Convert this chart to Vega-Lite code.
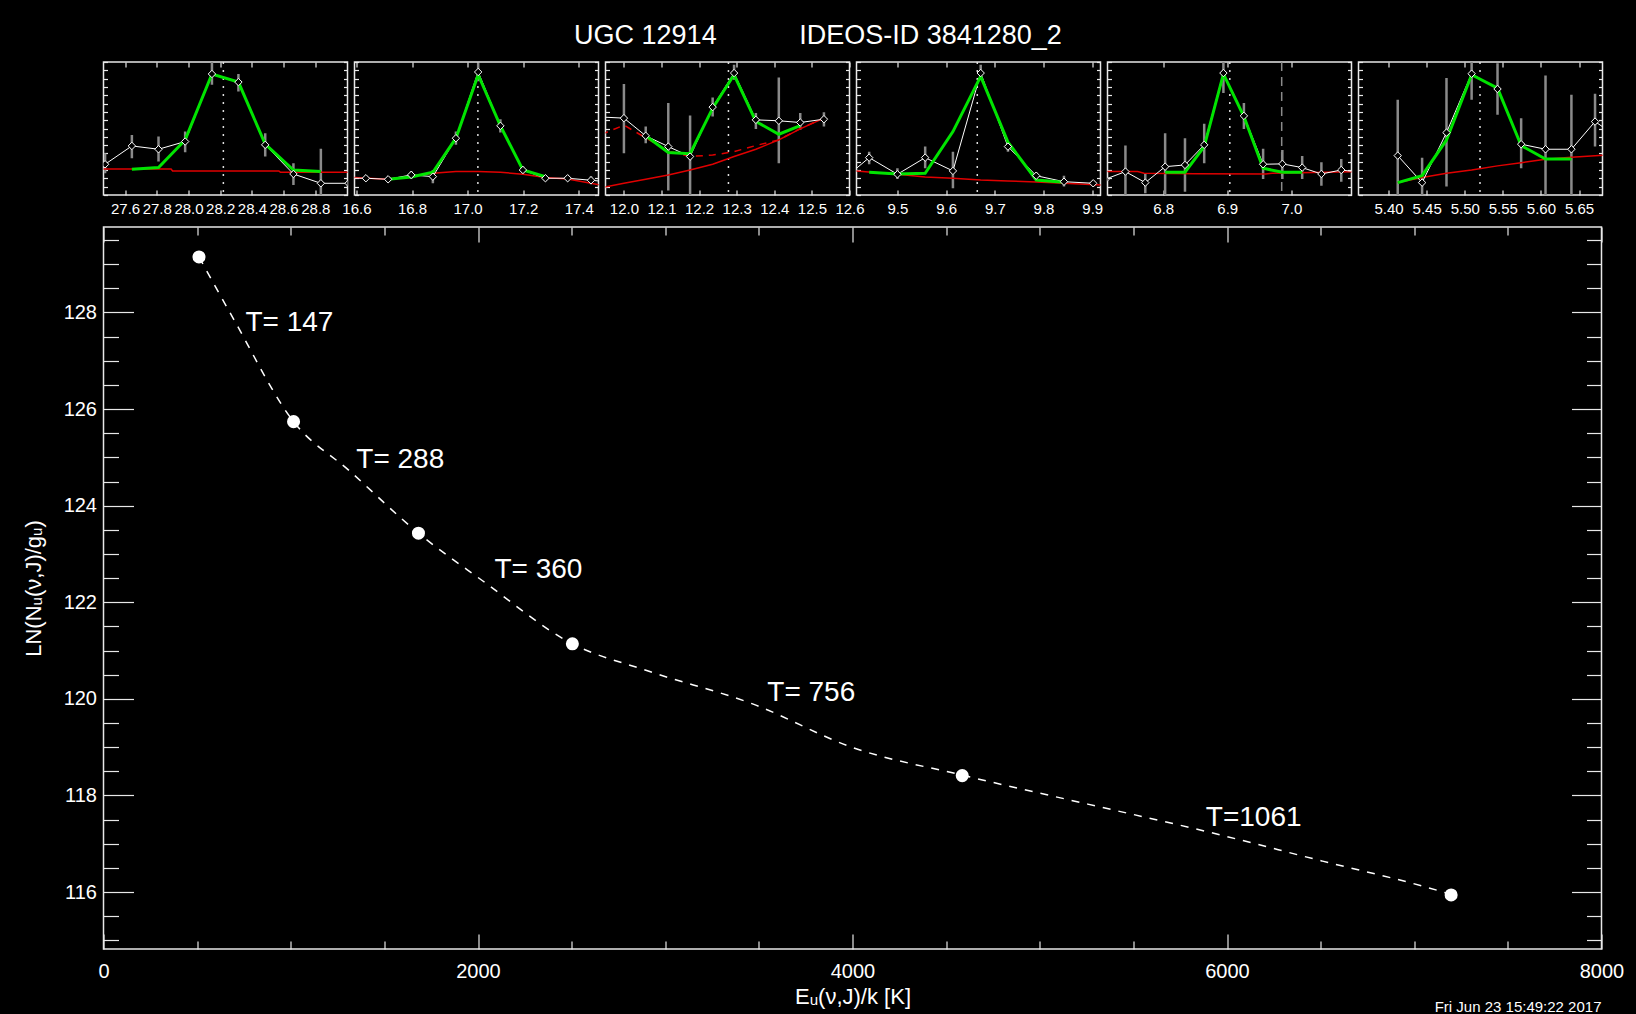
{
  "$schema": "https://vega.github.io/schema/vega-lite/v6.json",
  "background": "black",
  "padding": {"left": 20.5, "top": 21, "right": 12, "bottom": 1},
  "title": {"text": "UGC 12914\u00a0\u00a0\u00a0\u00a0\u00a0\u00a0\u00a0\u00a0\u00a0\u00a0\u00a0IDEOS-ID 3841280_2", "fontSize": 27, "color": "white", "fontWeight": "normal", "font": "Liberation Sans", "anchor": "middle", "frame": "bounds", "dx": -5, "baseline": "alphabetic", "offset": -10},
  "datasets": {
    "obs": [
      {"panel":1,"lam":27.474,"flux":23.1,"lo":16.4,"hi":31.4},
      {"panel":1,"lam":27.643,"flux":36.9,"lo":27.7,"hi":45.2},
      {"panel":1,"lam":27.811,"flux":34.4,"lo":25.1,"hi":43.9},
      {"panel":1,"lam":27.979,"flux":40.2,"lo":32.2,"hi":47.7},
      {"panel":1,"lam":28.148,"flux":91.0,"lo":82.9,"hi":100},
      {"panel":1,"lam":28.315,"flux":84.9,"lo":77.8,"hi":91.0},
      {"panel":1,"lam":28.484,"flux":37.7,"lo":28.9,"hi":46.5},
      {"panel":1,"lam":28.662,"flux":15.8,"lo":7.5,"hi":23.9},
      {"panel":1,"lam":28.835,"flux":8.8,"lo":-17,"hi":34.7},
      {"panel":1,"lam":29.01,"flux":8.8,"lo":8.8,"hi":8.8},
      {"panel":2,"lam":16.554,"flux":12.6,"lo":12.6,"hi":12.6},
      {"panel":2,"lam":16.634,"flux":12.6,"lo":10.6,"hi":14.6},
      {"panel":2,"lam":16.714,"flux":11.8,"lo":9.8,"hi":13.8},
      {"panel":2,"lam":16.797,"flux":15.1,"lo":12.1,"hi":18.1},
      {"panel":2,"lam":16.875,"flux":13.8,"lo":8.8,"hi":18.8},
      {"panel":2,"lam":16.958,"flux":42.7,"lo":37.7,"hi":47.7},
      {"panel":2,"lam":17.038,"flux":92.5,"lo":85.5,"hi":99.5},
      {"panel":2,"lam":17.118,"flux":52.0,"lo":47.0,"hi":57.0},
      {"panel":2,"lam":17.199,"flux":18.8,"lo":15.8,"hi":21.8},
      {"panel":2,"lam":17.280,"flux":12.6,"lo":10.6,"hi":14.6},
      {"panel":2,"lam":17.360,"flux":12.6,"lo":10.6,"hi":14.6},
      {"panel":2,"lam":17.444,"flux":11.1,"lo":8.1,"hi":14.1},
      {"panel":2,"lam":17.525,"flux":9.5,"lo":9.5,"hi":9.5},
      {"panel":3,"lam":11.941,"flux":58.6,"lo":58.6,"hi":58.6},
      {"panel":3,"lam":12.0,"flux":57.8,"lo":31.4,"hi":83.4},
      {"panel":3,"lam":12.058,"flux":44.5,"lo":39.0,"hi":51.5},
      {"panel":3,"lam":12.118,"flux":36.4,"lo":3.4,"hi":69.1},
      {"panel":3,"lam":12.176,"flux":28.9,"lo":-2,"hi":59.8},
      {"panel":3,"lam":12.236,"flux":66.1,"lo":59.0,"hi":73.3},
      {"panel":3,"lam":12.293,"flux":91.7,"lo":86.7,"hi":98},
      {"panel":3,"lam":12.351,"flux":56.5,"lo":49.7,"hi":61.6},
      {"panel":3,"lam":12.412,"flux":55.8,"lo":23.9,"hi":88.4},
      {"panel":3,"lam":12.469,"flux":54.5,"lo":49.0,"hi":61.6},
      {"panel":3,"lam":12.532,"flux":57.0,"lo":51.5,"hi":62.3},
      {"panel":4,"lam":9.385,"flux":10.6,"lo":10.6,"hi":10.6},
      {"panel":4,"lam":9.442,"flux":28.1,"lo":23.1,"hi":32.6},
      {"panel":4,"lam":9.5,"flux":15.6,"lo":12.1,"hi":20.1},
      {"panel":4,"lam":9.557,"flux":28.1,"lo":20.1,"hi":36.4},
      {"panel":4,"lam":9.614,"flux":18.1,"lo":5.0,"hi":32.6},
      {"panel":4,"lam":9.671,"flux":91.7,"lo":87.9,"hi":98},
      {"panel":4,"lam":9.727,"flux":36.4,"lo":32.6,"hi":39},
      {"panel":4,"lam":9.785,"flux":14.5,"lo":12.5,"hi":17},
      {"panel":4,"lam":9.842,"flux":10.0,"lo":6.3,"hi":14.5},
      {"panel":4,"lam":9.902,"flux":8.8,"lo":6.8,"hi":10.8},
      {"panel":5,"lam":6.710,"flux":11.9,"lo":11.9,"hi":11.9},
      {"panel":5,"lam":6.741,"flux":17.6,"lo":-2.4,"hi":37.2},
      {"panel":5,"lam":6.772,"flux":9.3,"lo":1.3,"hi":16.4},
      {"panel":5,"lam":6.803,"flux":21.3,"lo":-3.7,"hi":46.5},
      {"panel":5,"lam":6.834,"flux":22.6,"lo":2.5,"hi":42.7},
      {"panel":5,"lam":6.864,"flux":37.7,"lo":23.9,"hi":53.5},
      {"panel":5,"lam":6.894,"flux":91.7,"lo":76.6,"hi":106},
      {"panel":5,"lam":6.926,"flux":59.5,"lo":49.7,"hi":69.1},
      {"panel":5,"lam":6.956,"flux":23.1,"lo":12.1,"hi":34.7},
      {"panel":5,"lam":6.986,"flux":23.4,"lo":12.1,"hi":33.9},
      {"panel":5,"lam":7.017,"flux":20.6,"lo":12.1,"hi":29.4},
      {"panel":5,"lam":7.047,"flux":15.8,"lo":7.0,"hi":24.6},
      {"panel":5,"lam":7.078,"flux":18.8,"lo":10.0,"hi":27.1},
      {"panel":5,"lam":7.109,"flux":17.0,"lo":17.0,"hi":17.0},
      {"panel":6,"lam":5.412,"flux":29.6,"lo":-12.4,"hi":71.6},
      {"panel":6,"lam":5.444,"flux":9.3,"lo":-9.5,"hi":28.1},
      {"panel":6,"lam":5.476,"flux":46.9,"lo":6.4,"hi":87.9},
      {"panel":6,"lam":5.509,"flux":91.2,"lo":71.6,"hi":110},
      {"panel":6,"lam":5.543,"flux":79.7,"lo":60.3,"hi":99.1},
      {"panel":6,"lam":5.574,"flux":38.2,"lo":20.1,"hi":57.8},
      {"panel":6,"lam":5.606,"flux":34.4,"lo":-21,"hi":89.9},
      {"panel":6,"lam":5.640,"flux":34.4,"lo":-6.6,"hi":75.4},
      {"panel":6,"lam":5.671,"flux":55.2,"lo":36.4,"hi":76.1},
      {"panel":6,"lam":5.703,"flux":42.7,"lo":42.7,"hi":42.7}
    ],
    "fit": [
      {"panel":1,"lam":27.643,"flux":19.4},{"panel":1,"lam":27.811,"flux":20.6},{"panel":1,"lam":27.979,"flux":41.4},{"panel":1,"lam":28.148,"flux":91.0},{"panel":1,"lam":28.315,"flux":84.9},{"panel":1,"lam":28.484,"flux":38.2},{"panel":1,"lam":28.662,"flux":18.8},{"panel":1,"lam":28.835,"flux":17.6},
      {"panel":2,"lam":16.714,"flux":11.8},{"panel":2,"lam":16.797,"flux":13.6},{"panel":2,"lam":16.875,"flux":17.1},{"panel":2,"lam":16.958,"flux":42.7},{"panel":2,"lam":17.038,"flux":90.4},{"panel":2,"lam":17.118,"flux":52.0},{"panel":2,"lam":17.199,"flux":18.8},{"panel":2,"lam":17.280,"flux":13.8},
      {"panel":3,"lam":12.058,"flux":44.5},{"panel":3,"lam":12.118,"flux":31.9},{"panel":3,"lam":12.176,"flux":31.1},{"panel":3,"lam":12.236,"flux":65.3},{"panel":3,"lam":12.293,"flux":90.4},{"panel":3,"lam":12.351,"flux":55.3},{"panel":3,"lam":12.412,"flux":45.7},{"panel":3,"lam":12.469,"flux":52.2},
      {"panel":4,"lam":9.442,"flux":17.1},{"panel":4,"lam":9.5,"flux":15.8},{"panel":4,"lam":9.557,"flux":16.3},{"panel":4,"lam":9.614,"flux":47.7},{"panel":4,"lam":9.671,"flux":89.2},{"panel":4,"lam":9.727,"flux":39.7},{"panel":4,"lam":9.785,"flux":11.3},{"panel":4,"lam":9.842,"flux":9.6},
      {"panel":5,"lam":6.803,"flux":17.1},{"panel":5,"lam":6.834,"flux":17.1},{"panel":5,"lam":6.864,"flux":36.4},{"panel":5,"lam":6.894,"flux":91.0},{"panel":5,"lam":6.926,"flux":59.0},{"panel":5,"lam":6.956,"flux":20.1},{"panel":5,"lam":6.986,"flux":17.1},{"panel":5,"lam":7.017,"flux":17.1},
      {"panel":6,"lam":5.412,"flux":9.3},{"panel":6,"lam":5.444,"flux":14.5},{"panel":6,"lam":5.476,"flux":41.4},{"panel":6,"lam":5.509,"flux":90.4},{"panel":6,"lam":5.543,"flux":80.4},{"panel":6,"lam":5.574,"flux":37.2},{"panel":6,"lam":5.606,"flux":27.1},{"panel":6,"lam":5.640,"flux":27.1}
    ],
    "cont": [
      {"panel":1,"kind":"solid","lam":27.46,"flux":19.6},{"panel":1,"kind":"solid","lam":27.89,"flux":19.6},{"panel":1,"kind":"solid","lam":27.9,"flux":18.1},{"panel":1,"kind":"solid","lam":28.57,"flux":18.1},{"panel":1,"kind":"solid","lam":28.58,"flux":17.1},{"panel":1,"kind":"solid","lam":29.01,"flux":17.1},
      {"panel":2,"kind":"solid","lam":16.59,"flux":13.1},{"panel":2,"kind":"solid","lam":16.714,"flux":11.8},{"panel":2,"kind":"solid","lam":16.875,"flux":16.3},{"panel":2,"kind":"solid","lam":16.958,"flux":17.6},{"panel":2,"kind":"solid","lam":17.038,"flux":17.6},{"panel":2,"kind":"solid","lam":17.118,"flux":17.1},{"panel":2,"kind":"solid","lam":17.199,"flux":15.6},{"panel":2,"kind":"solid","lam":17.280,"flux":13.1},{"panel":2,"kind":"solid","lam":17.360,"flux":12.1},{"panel":2,"kind":"solid","lam":17.48,"flux":7.5},
      {"panel":3,"kind":"solid","lam":11.94,"flux":5.5},{"panel":3,"kind":"solid","lam":12.0,"flux":8.8},{"panel":3,"kind":"solid","lam":12.058,"flux":11.8},{"panel":3,"kind":"solid","lam":12.118,"flux":15.1},{"panel":3,"kind":"solid","lam":12.176,"flux":18.8},{"panel":3,"kind":"solid","lam":12.236,"flux":23.1},{"panel":3,"kind":"solid","lam":12.293,"flux":28.9},{"panel":3,"kind":"solid","lam":12.351,"flux":34.4},{"panel":3,"kind":"solid","lam":12.412,"flux":41.4},{"panel":3,"kind":"solid","lam":12.469,"flux":49.7},{"panel":3,"kind":"solid","lam":12.532,"flux":57.8},
      {"panel":3,"kind":"dashed","lam":11.94,"flux":45.5},{"panel":3,"kind":"dashed","lam":12.0,"flux":52.5},{"panel":3,"kind":"dashed","lam":12.058,"flux":43},{"panel":3,"kind":"dashed","lam":12.118,"flux":33},{"panel":3,"kind":"dashed","lam":12.176,"flux":29},{"panel":3,"kind":"dashed","lam":12.236,"flux":30},{"panel":3,"kind":"dashed","lam":12.293,"flux":32.6},{"panel":3,"kind":"dashed","lam":12.351,"flux":37.2},{"panel":3,"kind":"dashed","lam":12.412,"flux":41.4},{"panel":3,"kind":"dashed","lam":12.469,"flux":50},{"panel":3,"kind":"dashed","lam":12.532,"flux":57.8},
      {"panel":4,"kind":"solid","lam":9.41,"flux":18.1},{"panel":4,"kind":"solid","lam":9.5,"flux":15.6},{"panel":4,"kind":"solid","lam":9.557,"flux":13.6},{"panel":4,"kind":"solid","lam":9.614,"flux":12.6},{"panel":4,"kind":"solid","lam":9.671,"flux":11.3},{"panel":4,"kind":"solid","lam":9.727,"flux":10.6},{"panel":4,"kind":"solid","lam":9.785,"flux":9.8},{"panel":4,"kind":"solid","lam":9.842,"flux":8.8},{"panel":4,"kind":"solid","lam":9.92,"flux":7.5},
      {"panel":5,"kind":"solid","lam":6.71,"flux":17.6},{"panel":5,"kind":"solid","lam":6.76,"flux":17.6},{"panel":5,"kind":"solid","lam":6.77,"flux":16.4},{"panel":5,"kind":"solid","lam":6.85,"flux":16.0},{"panel":5,"kind":"solid","lam":6.96,"flux":15.8},{"panel":5,"kind":"solid","lam":6.97,"flux":16.3},{"panel":5,"kind":"solid","lam":7.1,"flux":17.6},
      {"panel":6,"kind":"solid","lam":5.412,"flux":9.3},{"panel":6,"kind":"solid","lam":5.444,"flux":13.1},{"panel":6,"kind":"solid","lam":5.476,"flux":16.3},{"panel":6,"kind":"solid","lam":5.509,"flux":18.8},{"panel":6,"kind":"solid","lam":5.543,"flux":21.9},{"panel":6,"kind":"solid","lam":5.574,"flux":24.3},{"panel":6,"kind":"solid","lam":5.606,"flux":26.9},{"panel":6,"kind":"solid","lam":5.640,"flux":28.4},{"panel":6,"kind":"solid","lam":5.685,"flux":30.1}
    ],
    "centers": [
      {"panel":1,"kind":"line","lam":28.22},
      {"panel":2,"kind":"line","lam":17.037},
      {"panel":3,"kind":"line","lam":12.278},
      {"panel":4,"kind":"line","lam":9.664},
      {"panel":5,"kind":"line","lam":6.904},
      {"panel":5,"kind":"other","lam":6.985},
      {"panel":6,"kind":"line","lam":5.52}
    ],
    "levels": [
      {"E":510,"lnN":129.15},{"E":1015,"lnN":125.74},{"E":1682,"lnN":123.43},{"E":2504,"lnN":121.14},{"E":4586,"lnN":118.41},{"E":7197,"lnN":115.94}
    ],
    "curve": [
      {"E":510,"lnN":129.15},{"E":691,"lnN":127.89},{"E":1015,"lnN":125.74},{"E":1314,"lnN":124.72},{"E":1682,"lnN":123.43},{"E":2026,"lnN":122.44},{"E":2504,"lnN":121.14},{"E":2905,"lnN":120.58},{"E":3470,"lnN":119.89},{"E":4002,"lnN":118.99},{"E":4586,"lnN":118.42},{"E":5256,"lnN":117.82},{"E":5883,"lnN":117.26},{"E":6510,"lnN":116.64},{"E":7074,"lnN":116.09},{"E":7197,"lnN":115.95}
    ],
    "temps": [
      {"T":147,"label":"T= 147","E":758,"lnN":127.79},
      {"T":288,"label":"T= 288","E":1350,"lnN":124.94},
      {"T":360,"label":"T= 360","E":2088,"lnN":122.67},
      {"T":756,"label":"T= 756","E":3545,"lnN":120.13},
      {"T":1061,"label":"T=1061","E":5887,"lnN":117.53}
    ]
  },
  "vconcat": [
    {
      "hconcat": [
        {
          "width": 244, "height": 133,
          "layer": [
            {"data":{"name":"centers"},"transform":[{"filter":"datum.panel==1 && datum.kind=='line'"}],"mark":{"type":"rule","color":"#dddddd","strokeDash":[2,6],"strokeWidth":1.5},"encoding":{"x":{"field":"lam","type":"quantitative","axis":null}}},
            {"data":{"name":"obs"},"transform":[{"filter":"datum.panel==1"}],"mark":{"type":"rule","color":"#8a8a8a","strokeWidth":2.5,"clip":true},"encoding":{"x":{"field":"lam","type":"quantitative","scale":{"domain":[27.464,29.003],"nice":false,"zero":false},"axis":{"orient":"bottom","values":[27.6,27.8,28.0,28.2,28.4,28.6,28.8],"format":".1f","tickSize":-5,"labelPadding":11,"title":null}},"y":{"field":"lo","type":"quantitative","scale":{"domain":[0,100],"nice":false,"zero":false},"axis":{"orient":"left","values":[0,6.25,12.5,18.75,25,31.25,37.5,43.75,50,56.25,62.5,68.75,75,81.25,87.5,93.75,100],"labels":false,"tickSize":-4,"title":null}},"y2":{"field":"hi"}}},
            {"data":{"name":"cont"},"transform":[{"filter":"datum.panel==1 && datum.kind=='solid'"}],"mark":{"type":"line","color":"#e00000","strokeWidth":1.5,"clip":true},"encoding":{"x":{"field":"lam","type":"quantitative","axis":null},"y":{"field":"flux","type":"quantitative","axis":null}}},
            {"data":{"name":"obs"},"transform":[{"filter":"datum.panel==1"}],"mark":{"type":"line","color":"white","strokeWidth":1,"clip":true},"encoding":{"x":{"field":"lam","type":"quantitative","axis":{"orient":"top","values":[27.6,27.8,28.0,28.2,28.4,28.6,28.8],"labels":false,"tickSize":-5,"title":null}},"y":{"field":"flux","type":"quantitative","axis":{"orient":"right","values":[0,6.25,12.5,18.75,25,31.25,37.5,43.75,50,56.25,62.5,68.75,75,81.25,87.5,93.75,100],"labels":false,"tickSize":-4,"title":null}}}},
            {"data":{"name":"fit"},"transform":[{"filter":"datum.panel==1"}],"mark":{"type":"line","color":"#00e400","strokeWidth":3,"clip":true},"encoding":{"x":{"field":"lam","type":"quantitative","axis":null},"y":{"field":"flux","type":"quantitative","axis":null}}},
            {"data":{"name":"obs"},"transform":[{"filter":"datum.panel==1"}],"mark":{"type":"point","shape":"diamond","size":55,"filled":true,"fill":"black","stroke":"white","strokeWidth":1,"opacity":1,"clip":true},"encoding":{"x":{"field":"lam","type":"quantitative","axis":null},"y":{"field":"flux","type":"quantitative","axis":null}}}
          ],
          "resolve": {"axis": {"x": "independent", "y": "independent"}}
        },
        {
          "width": 244, "height": 133,
          "layer": [
            {"data":{"name":"centers"},"transform":[{"filter":"datum.panel==2 && datum.kind=='line'"}],"mark":{"type":"rule","color":"#dddddd","strokeDash":[2,6],"strokeWidth":1.5},"encoding":{"x":{"field":"lam","type":"quantitative","axis":null}}},
            {"data":{"name":"obs"},"transform":[{"filter":"datum.panel==2"}],"mark":{"type":"rule","color":"#8a8a8a","strokeWidth":2.5,"clip":true},"encoding":{"x":{"field":"lam","type":"quantitative","scale":{"domain":[16.593,17.471],"nice":false,"zero":false},"axis":{"orient":"bottom","values":[16.6,16.8,17.0,17.2,17.4],"format":".1f","tickSize":-5,"labelPadding":11,"title":null}},"y":{"field":"lo","type":"quantitative","scale":{"domain":[0,100],"nice":false,"zero":false},"axis":{"orient":"left","values":[0,6.25,12.5,18.75,25,31.25,37.5,43.75,50,56.25,62.5,68.75,75,81.25,87.5,93.75,100],"labels":false,"tickSize":-4,"title":null}},"y2":{"field":"hi"}}},
            {"data":{"name":"cont"},"transform":[{"filter":"datum.panel==2 && datum.kind=='solid'"}],"mark":{"type":"line","color":"#e00000","strokeWidth":1.5,"clip":true},"encoding":{"x":{"field":"lam","type":"quantitative","axis":null},"y":{"field":"flux","type":"quantitative","axis":null}}},
            {"data":{"name":"obs"},"transform":[{"filter":"datum.panel==2"}],"mark":{"type":"line","color":"white","strokeWidth":1,"clip":true},"encoding":{"x":{"field":"lam","type":"quantitative","axis":{"orient":"top","values":[16.6,16.8,17.0,17.2,17.4],"labels":false,"tickSize":-5,"title":null}},"y":{"field":"flux","type":"quantitative","axis":{"orient":"right","values":[0,6.25,12.5,18.75,25,31.25,37.5,43.75,50,56.25,62.5,68.75,75,81.25,87.5,93.75,100],"labels":false,"tickSize":-4,"title":null}}}},
            {"data":{"name":"fit"},"transform":[{"filter":"datum.panel==2"}],"mark":{"type":"line","color":"#00e400","strokeWidth":3,"clip":true},"encoding":{"x":{"field":"lam","type":"quantitative","axis":null},"y":{"field":"flux","type":"quantitative","axis":null}}},
            {"data":{"name":"obs"},"transform":[{"filter":"datum.panel==2"}],"mark":{"type":"point","shape":"diamond","size":55,"filled":true,"fill":"black","stroke":"white","strokeWidth":1,"opacity":1,"clip":true},"encoding":{"x":{"field":"lam","type":"quantitative","axis":null},"y":{"field":"flux","type":"quantitative","axis":null}}}
          ],
          "resolve": {"axis": {"x": "independent", "y": "independent"}}
        },
        {
          "width": 244, "height": 133,
          "layer": [
            {"data":{"name":"centers"},"transform":[{"filter":"datum.panel==3 && datum.kind=='line'"}],"mark":{"type":"rule","color":"#dddddd","strokeDash":[2,6],"strokeWidth":1.5},"encoding":{"x":{"field":"lam","type":"quantitative","axis":null}}},
            {"data":{"name":"obs"},"transform":[{"filter":"datum.panel==3"}],"mark":{"type":"rule","color":"#8a8a8a","strokeWidth":2.5,"clip":true},"encoding":{"x":{"field":"lam","type":"quantitative","scale":{"domain":[11.951,12.6],"nice":false,"zero":false},"axis":{"orient":"bottom","values":[12.0,12.1,12.2,12.3,12.4,12.5,12.6],"format":".1f","tickSize":-5,"labelPadding":11,"title":null}},"y":{"field":"lo","type":"quantitative","scale":{"domain":[0,100],"nice":false,"zero":false},"axis":{"orient":"left","values":[0,6.25,12.5,18.75,25,31.25,37.5,43.75,50,56.25,62.5,68.75,75,81.25,87.5,93.75,100],"labels":false,"tickSize":-4,"title":null}},"y2":{"field":"hi"}}},
            {"data":{"name":"cont"},"transform":[{"filter":"datum.panel==3 && datum.kind=='solid'"}],"mark":{"type":"line","color":"#e00000","strokeWidth":1.5,"clip":true},"encoding":{"x":{"field":"lam","type":"quantitative","axis":null},"y":{"field":"flux","type":"quantitative","axis":null}}},
            {"data":{"name":"cont"},"transform":[{"filter":"datum.panel==3 && datum.kind=='dashed'"}],"mark":{"type":"line","color":"#e00000","strokeWidth":1.5,"strokeDash":[7,6],"clip":true},"encoding":{"x":{"field":"lam","type":"quantitative","axis":null},"y":{"field":"flux","type":"quantitative","axis":null}}},
            {"data":{"name":"obs"},"transform":[{"filter":"datum.panel==3"}],"mark":{"type":"line","color":"white","strokeWidth":1,"clip":true},"encoding":{"x":{"field":"lam","type":"quantitative","axis":{"orient":"top","values":[12.0,12.1,12.2,12.3,12.4,12.5,12.6],"labels":false,"tickSize":-5,"title":null}},"y":{"field":"flux","type":"quantitative","axis":{"orient":"right","values":[0,6.25,12.5,18.75,25,31.25,37.5,43.75,50,56.25,62.5,68.75,75,81.25,87.5,93.75,100],"labels":false,"tickSize":-4,"title":null}}}},
            {"data":{"name":"fit"},"transform":[{"filter":"datum.panel==3"}],"mark":{"type":"line","color":"#00e400","strokeWidth":3,"clip":true},"encoding":{"x":{"field":"lam","type":"quantitative","axis":null},"y":{"field":"flux","type":"quantitative","axis":null}}},
            {"data":{"name":"obs"},"transform":[{"filter":"datum.panel==3"}],"mark":{"type":"point","shape":"diamond","size":55,"filled":true,"fill":"black","stroke":"white","strokeWidth":1,"opacity":1,"clip":true},"encoding":{"x":{"field":"lam","type":"quantitative","axis":null},"y":{"field":"flux","type":"quantitative","axis":null}}}
          ],
          "resolve": {"axis": {"x": "independent", "y": "independent"}}
        },
        {
          "width": 244, "height": 133,
          "layer": [
            {"data":{"name":"centers"},"transform":[{"filter":"datum.panel==4 && datum.kind=='line'"}],"mark":{"type":"rule","color":"#dddddd","strokeDash":[2,6],"strokeWidth":1.5},"encoding":{"x":{"field":"lam","type":"quantitative","axis":null}}},
            {"data":{"name":"obs"},"transform":[{"filter":"datum.panel==4"}],"mark":{"type":"rule","color":"#8a8a8a","strokeWidth":2.5,"clip":true},"encoding":{"x":{"field":"lam","type":"quantitative","scale":{"domain":[9.416,9.917],"nice":false,"zero":false},"axis":{"orient":"bottom","values":[9.5,9.6,9.7,9.8,9.9],"format":".1f","tickSize":-5,"labelPadding":11,"title":null}},"y":{"field":"lo","type":"quantitative","scale":{"domain":[0,100],"nice":false,"zero":false},"axis":{"orient":"left","values":[0,6.25,12.5,18.75,25,31.25,37.5,43.75,50,56.25,62.5,68.75,75,81.25,87.5,93.75,100],"labels":false,"tickSize":-4,"title":null}},"y2":{"field":"hi"}}},
            {"data":{"name":"cont"},"transform":[{"filter":"datum.panel==4 && datum.kind=='solid'"}],"mark":{"type":"line","color":"#e00000","strokeWidth":1.5,"clip":true},"encoding":{"x":{"field":"lam","type":"quantitative","axis":null},"y":{"field":"flux","type":"quantitative","axis":null}}},
            {"data":{"name":"obs"},"transform":[{"filter":"datum.panel==4"}],"mark":{"type":"line","color":"white","strokeWidth":1,"clip":true},"encoding":{"x":{"field":"lam","type":"quantitative","axis":{"orient":"top","values":[9.5,9.6,9.7,9.8,9.9],"labels":false,"tickSize":-5,"title":null}},"y":{"field":"flux","type":"quantitative","axis":{"orient":"right","values":[0,6.25,12.5,18.75,25,31.25,37.5,43.75,50,56.25,62.5,68.75,75,81.25,87.5,93.75,100],"labels":false,"tickSize":-4,"title":null}}}},
            {"data":{"name":"fit"},"transform":[{"filter":"datum.panel==4"}],"mark":{"type":"line","color":"#00e400","strokeWidth":3,"clip":true},"encoding":{"x":{"field":"lam","type":"quantitative","axis":null},"y":{"field":"flux","type":"quantitative","axis":null}}},
            {"data":{"name":"obs"},"transform":[{"filter":"datum.panel==4"}],"mark":{"type":"point","shape":"diamond","size":55,"filled":true,"fill":"black","stroke":"white","strokeWidth":1,"opacity":1,"clip":true},"encoding":{"x":{"field":"lam","type":"quantitative","axis":null},"y":{"field":"flux","type":"quantitative","axis":null}}}
          ],
          "resolve": {"axis": {"x": "independent", "y": "independent"}}
        },
        {
          "width": 244, "height": 133,
          "layer": [
            {"data":{"name":"centers"},"transform":[{"filter":"datum.panel==5 && datum.kind=='line'"}],"mark":{"type":"rule","color":"#dddddd","strokeDash":[2,6],"strokeWidth":1.5},"encoding":{"x":{"field":"lam","type":"quantitative","axis":null}}},
            {"data":{"name":"centers"},"transform":[{"filter":"datum.panel==5 && datum.kind=='other'"}],"mark":{"type":"rule","color":"#8a8a8a","strokeDash":[9,6],"strokeWidth":1.5},"encoding":{"x":{"field":"lam","type":"quantitative","axis":null}}},
            {"data":{"name":"obs"},"transform":[{"filter":"datum.panel==5"}],"mark":{"type":"rule","color":"#8a8a8a","strokeWidth":2.5,"clip":true},"encoding":{"x":{"field":"lam","type":"quantitative","scale":{"domain":[6.713,7.094],"nice":false,"zero":false},"axis":{"orient":"bottom","values":[6.8,6.9,7.0],"format":".1f","tickSize":-5,"labelPadding":11,"title":null}},"y":{"field":"lo","type":"quantitative","scale":{"domain":[0,100],"nice":false,"zero":false},"axis":{"orient":"left","values":[0,6.25,12.5,18.75,25,31.25,37.5,43.75,50,56.25,62.5,68.75,75,81.25,87.5,93.75,100],"labels":false,"tickSize":-4,"title":null}},"y2":{"field":"hi"}}},
            {"data":{"name":"cont"},"transform":[{"filter":"datum.panel==5 && datum.kind=='solid'"}],"mark":{"type":"line","color":"#e00000","strokeWidth":1.5,"clip":true},"encoding":{"x":{"field":"lam","type":"quantitative","axis":null},"y":{"field":"flux","type":"quantitative","axis":null}}},
            {"data":{"name":"obs"},"transform":[{"filter":"datum.panel==5"}],"mark":{"type":"line","color":"white","strokeWidth":1,"clip":true},"encoding":{"x":{"field":"lam","type":"quantitative","axis":{"orient":"top","values":[6.8,6.9,7.0],"labels":false,"tickSize":-5,"title":null}},"y":{"field":"flux","type":"quantitative","axis":{"orient":"right","values":[0,6.25,12.5,18.75,25,31.25,37.5,43.75,50,56.25,62.5,68.75,75,81.25,87.5,93.75,100],"labels":false,"tickSize":-4,"title":null}}}},
            {"data":{"name":"fit"},"transform":[{"filter":"datum.panel==5"}],"mark":{"type":"line","color":"#00e400","strokeWidth":3,"clip":true},"encoding":{"x":{"field":"lam","type":"quantitative","axis":null},"y":{"field":"flux","type":"quantitative","axis":null}}},
            {"data":{"name":"obs"},"transform":[{"filter":"datum.panel==5"}],"mark":{"type":"point","shape":"diamond","size":55,"filled":true,"fill":"black","stroke":"white","strokeWidth":1,"opacity":1,"clip":true},"encoding":{"x":{"field":"lam","type":"quantitative","axis":null},"y":{"field":"flux","type":"quantitative","axis":null}}}
          ],
          "resolve": {"axis": {"x": "independent", "y": "independent"}}
        },
        {
          "width": 244, "height": 133,
          "layer": [
            {"data":{"name":"centers"},"transform":[{"filter":"datum.panel==6 && datum.kind=='line'"}],"mark":{"type":"rule","color":"#dddddd","strokeDash":[2,6],"strokeWidth":1.5},"encoding":{"x":{"field":"lam","type":"quantitative","axis":null}}},
            {"data":{"name":"obs"},"transform":[{"filter":"datum.panel==6"}],"mark":{"type":"rule","color":"#8a8a8a","strokeWidth":2.5,"clip":true},"encoding":{"x":{"field":"lam","type":"quantitative","scale":{"domain":[5.3605,5.6808],"nice":false,"zero":false},"axis":{"orient":"bottom","values":[5.40,5.45,5.50,5.55,5.60,5.65],"format":".2f","tickSize":-5,"labelPadding":11,"title":null}},"y":{"field":"lo","type":"quantitative","scale":{"domain":[0,100],"nice":false,"zero":false},"axis":{"orient":"left","values":[0,6.25,12.5,18.75,25,31.25,37.5,43.75,50,56.25,62.5,68.75,75,81.25,87.5,93.75,100],"labels":false,"tickSize":-4,"title":null}},"y2":{"field":"hi"}}},
            {"data":{"name":"cont"},"transform":[{"filter":"datum.panel==6 && datum.kind=='solid'"}],"mark":{"type":"line","color":"#e00000","strokeWidth":1.5,"clip":true},"encoding":{"x":{"field":"lam","type":"quantitative","axis":null},"y":{"field":"flux","type":"quantitative","axis":null}}},
            {"data":{"name":"obs"},"transform":[{"filter":"datum.panel==6"}],"mark":{"type":"line","color":"white","strokeWidth":1,"clip":true},"encoding":{"x":{"field":"lam","type":"quantitative","axis":{"orient":"top","values":[5.40,5.45,5.50,5.55,5.60,5.65],"labels":false,"tickSize":-5,"title":null}},"y":{"field":"flux","type":"quantitative","axis":{"orient":"right","values":[0,6.25,12.5,18.75,25,31.25,37.5,43.75,50,56.25,62.5,68.75,75,81.25,87.5,93.75,100],"labels":false,"tickSize":-4,"title":null}}}},
            {"data":{"name":"fit"},"transform":[{"filter":"datum.panel==6"}],"mark":{"type":"line","color":"#00e400","strokeWidth":3,"clip":true},"encoding":{"x":{"field":"lam","type":"quantitative","axis":null},"y":{"field":"flux","type":"quantitative","axis":null}}},
            {"data":{"name":"obs"},"transform":[{"filter":"datum.panel==6"}],"mark":{"type":"point","shape":"diamond","size":55,"filled":true,"fill":"black","stroke":"white","strokeWidth":1,"opacity":1,"clip":true},"encoding":{"x":{"field":"lam","type":"quantitative","axis":null},"y":{"field":"flux","type":"quantitative","axis":null}}}
          ],
          "resolve": {"axis": {"x": "independent", "y": "independent"}}
        }
      ],
      "spacing": 7,
      "bounds": "flush"
    },
    {
      "width": 1498, "height": 722,
      "title": {"text": "Fri Jun 23 15:49:22 2017", "orient": "bottom", "anchor": "end", "frame": "group", "fontSize": 15, "color": "white", "fontWeight": "normal", "font": "Liberation Sans", "offset": -7},
      "layer": [
        {"data":{"name":"curve"},"mark":{"type":"line","color":"white","strokeWidth":1.5,"strokeDash":[8,8],"interpolate":"monotone"},
         "encoding":{"x":{"field":"E","type":"quantitative","scale":{"domain":[0,8000],"nice":false,"zero":false},"axis":{"orient":"bottom","values":[0,2000,4000,6000,8000],"format":"d","tickSize":-15,"labelPadding":27,"labelFontSize":20,"title":"Eᵤ(ν,J)/k [K]","titlePadding":5,"titleFontSize":22}},
                     "y":{"field":"lnN","type":"quantitative","scale":{"domain":[114.82,129.77],"nice":false,"zero":false},"axis":{"orient":"left","values":[116,118,120,122,124,126,128],"tickSize":-30,"labelPadding":37,"labelFontSize":20,"title":"LN(Nᵤ(ν,J)/gᵤ)","titlePadding":18,"titleFontSize":22}}}},
        {"data":{"name":"levels"},"mark":{"type":"circle","color":"white","size":170,"opacity":1},
         "encoding":{"x":{"field":"E","type":"quantitative","axis":{"orient":"bottom","values":[500,1000,1500,2500,3000,3500,4500,5000,5500,6500,7000,7500],"tickSize":-8,"labels":false,"title":null}},
                     "y":{"field":"lnN","type":"quantitative","axis":{"orient":"left","values":[115,115.5,116.5,117,117.5,118.5,119,119.5,120.5,121,121.5,122.5,123,123.5,124.5,125,125.5,126.5,127,127.5,128.5,129,129.5],"tickSize":-15,"labels":false,"title":null}}}},
        {"data":{"name":"temps"},"transform":[{"filter":"datum.T < 500"}],"mark":{"type":"text","align":"left","baseline":"middle","fontSize":28,"color":"white","font":"Liberation Sans"},
         "encoding":{"x":{"field":"E","type":"quantitative","axis":{"orient":"top","values":[0,2000,4000,6000,8000],"tickSize":-15,"labels":false,"title":null}},
                     "y":{"field":"lnN","type":"quantitative","axis":{"orient":"right","values":[116,118,120,122,124,126,128],"tickSize":-30,"labels":false,"title":null}},
                     "text":{"field":"label"}}},
        {"data":{"name":"temps"},"transform":[{"filter":"datum.T >= 500"}],"mark":{"type":"text","align":"left","baseline":"middle","fontSize":28,"color":"white","font":"Liberation Sans"},
         "encoding":{"x":{"field":"E","type":"quantitative","axis":{"orient":"top","values":[500,1000,1500,2500,3000,3500,4500,5000,5500,6500,7000,7500],"tickSize":-8,"labels":false,"title":null}},
                     "y":{"field":"lnN","type":"quantitative","axis":{"orient":"right","values":[115,115.5,116.5,117,117.5,118.5,119,119.5,120.5,121,121.5,122.5,123,123.5,124.5,125,125.5,126.5,127,127.5,128.5,129,129.5],"tickSize":-15,"labels":false,"title":null}},
                     "text":{"field":"label"}}}
      ],
      "resolve": {"axis": {"x": "independent", "y": "independent"}}
    }
  ],
  "spacing": 8,
  "config": {
    "view": {"stroke": "#e8e8e8", "strokeWidth": 1.5},
    "font": "Liberation Sans",
    "axis": {"domain": false, "grid": false, "tickColor": "#e8e8e8", "tickWidth": 1.2, "labelColor": "white", "labelFont": "Liberation Sans", "labelFontSize": 15, "labelFlush": false, "labelOverlap": false, "titleColor": "white", "titleFont": "Liberation Sans", "titleFontWeight": "normal"},
    "title": {"color": "white", "font": "Liberation Sans", "fontWeight": "normal"}
  }
}
